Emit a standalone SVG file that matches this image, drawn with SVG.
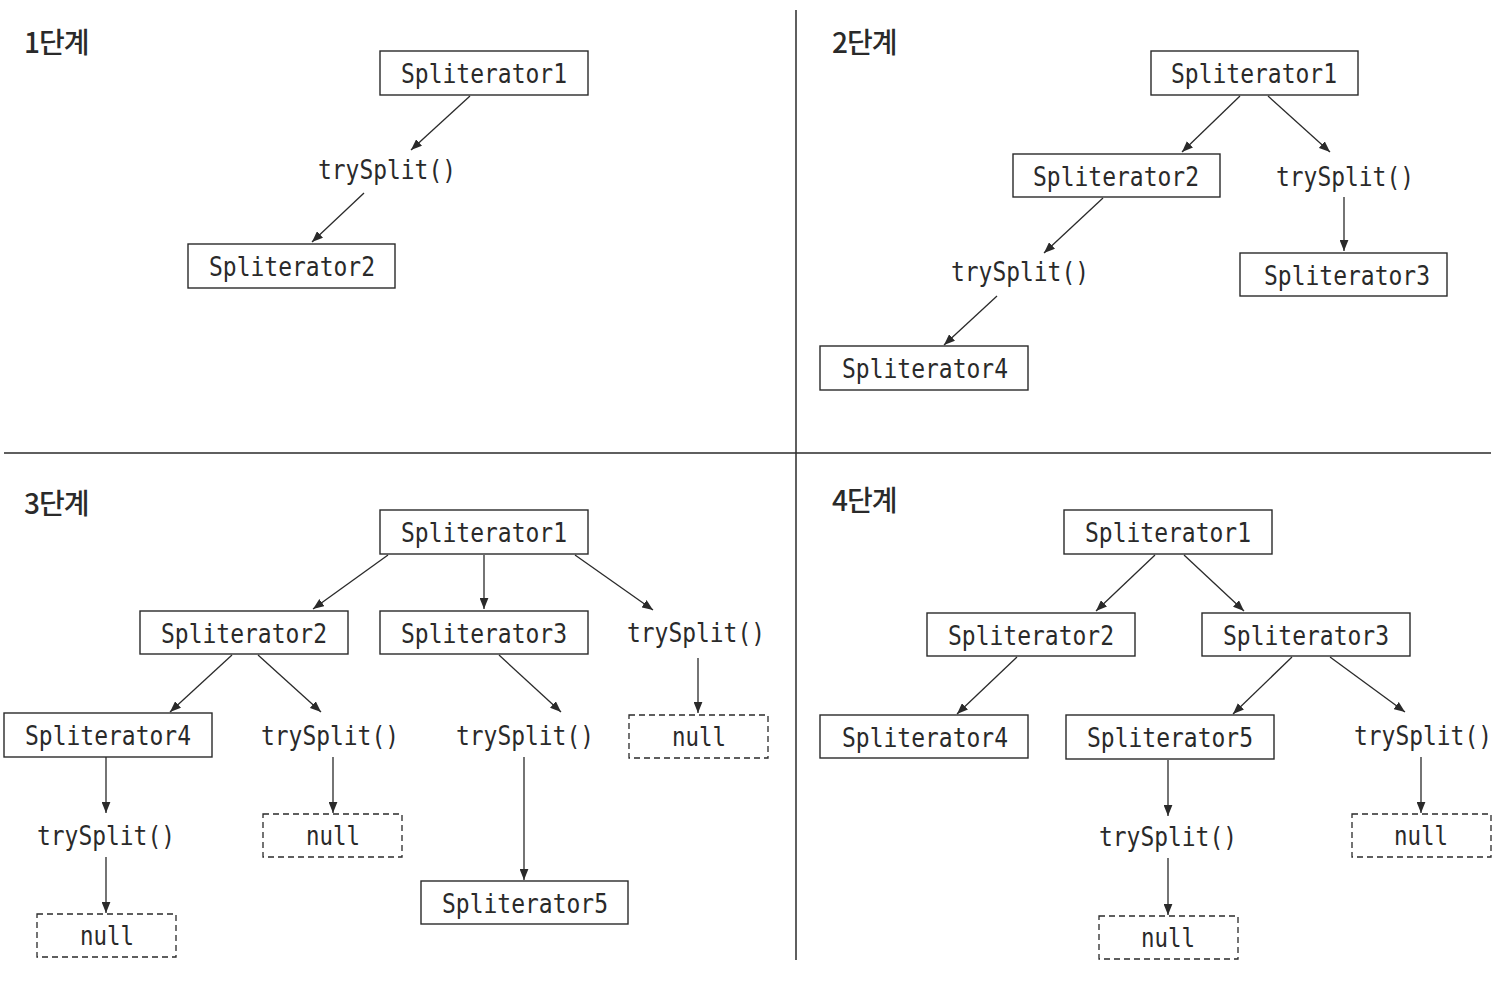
<svg xmlns="http://www.w3.org/2000/svg" width="1509" height="1000" viewBox="0 0 1509 1000">
<style>
.bg{fill:#fff}
.box{fill:#fff;stroke:#2a2a2a;stroke-width:1.4}
.nullbox{fill:#fff;stroke:#2a2a2a;stroke-width:1.3;stroke-dasharray:6 4}
.t{font-family:"DejaVu Sans Mono","Liberation Mono",monospace;font-size:26px;fill:#2a2a2a;text-anchor:middle}
.title{font-family:"Noto Sans CJK KR","Noto Sans",sans-serif;font-size:28px;font-weight:500;fill:#2a2a2a;letter-spacing:-1px}
.div{stroke:#2a2a2a;stroke-width:1.5}
.c{stroke:#2a2a2a;stroke-width:1.3;fill:none;marker-end:url(#ah)}
</style>
<defs>
<marker id="ah" viewBox="0 0 10 8" refX="10" refY="4" markerWidth="11" markerHeight="9" markerUnits="userSpaceOnUse" orient="auto">
<path d="M0,0 L10,4 L0,8 z" fill="#2a2a2a"/>
</marker>
</defs>
<rect class="bg" x="0" y="0" width="1509" height="1000"/>
<g id="dividers">
<line class="div" x1="796" y1="10" x2="796" y2="960"/>
<line class="div" x1="4" y1="453" x2="1491" y2="453"/>
</g>
<g id="titles">
<text class="title" x="24" y="53">1단계</text>
<text class="title" x="832" y="53">2단계</text>
<text class="title" x="24" y="514">3단계</text>
<text class="title" x="832" y="511">4단계</text>
</g>
<g id="connectors">
<line class="c" x1="470" y1="96" x2="411" y2="150"/>
<line class="c" x1="364" y1="193" x2="312" y2="242"/>
<line class="c" x1="1240" y1="96" x2="1182" y2="152"/>
<line class="c" x1="1268" y1="96" x2="1330" y2="152"/>
<line class="c" x1="1344" y1="197" x2="1344" y2="251"/>
<line class="c" x1="1103" y1="198" x2="1044" y2="253"/>
<line class="c" x1="997" y1="296" x2="944" y2="345"/>
<line class="c" x1="388" y1="555" x2="313" y2="609"/>
<line class="c" x1="484" y1="555" x2="484" y2="609"/>
<line class="c" x1="575" y1="555" x2="653" y2="610"/>
<line class="c" x1="232" y1="655" x2="170" y2="712"/>
<line class="c" x1="258" y1="655" x2="321" y2="712"/>
<line class="c" x1="499" y1="655" x2="561" y2="712"/>
<line class="c" x1="698" y1="658" x2="698" y2="713"/>
<line class="c" x1="106" y1="757" x2="106" y2="813"/>
<line class="c" x1="106" y1="857" x2="106" y2="913"/>
<line class="c" x1="333" y1="757" x2="333" y2="813"/>
<line class="c" x1="524" y1="757" x2="524" y2="880"/>
<line class="c" x1="1155" y1="555" x2="1096" y2="611"/>
<line class="c" x1="1184" y1="555" x2="1244" y2="611"/>
<line class="c" x1="1017" y1="657" x2="957" y2="714"/>
<line class="c" x1="1292" y1="657" x2="1233" y2="714"/>
<line class="c" x1="1330" y1="657" x2="1405" y2="712"/>
<line class="c" x1="1168" y1="760" x2="1168" y2="816"/>
<line class="c" x1="1168" y1="858" x2="1168" y2="915"/>
<line class="c" x1="1421" y1="757" x2="1421" y2="813"/>
</g>
<g id="p1-s1"><rect class="box" x="380" y="51" width="208" height="44"/><text class="t" x="484" y="83" textLength="166" lengthAdjust="spacingAndGlyphs">Spliterator1</text></g>
<g id="p1-try"><text class="t" x="387" y="179" textLength="138" lengthAdjust="spacingAndGlyphs">trySplit()</text></g>
<g id="p1-s2"><rect class="box" x="188" y="244" width="207" height="44"/><text class="t" x="292" y="276" textLength="166" lengthAdjust="spacingAndGlyphs">Spliterator2</text></g>
<g id="p2-s1"><rect class="box" x="1151" y="51" width="207" height="44"/><text class="t" x="1254" y="83" textLength="166" lengthAdjust="spacingAndGlyphs">Spliterator1</text></g>
<g id="p2-s2"><rect class="box" x="1013" y="154" width="207" height="43"/><text class="t" x="1116" y="186" textLength="166" lengthAdjust="spacingAndGlyphs">Spliterator2</text></g>
<g id="p2-try1"><text class="t" x="1345" y="186" textLength="138" lengthAdjust="spacingAndGlyphs">trySplit()</text></g>
<g id="p2-s3"><rect class="box" x="1240" y="253" width="207" height="43"/><text class="t" x="1347" y="285" textLength="166" lengthAdjust="spacingAndGlyphs">Spliterator3</text></g>
<g id="p2-try2"><text class="t" x="1020" y="281" textLength="138" lengthAdjust="spacingAndGlyphs">trySplit()</text></g>
<g id="p2-s4"><rect class="box" x="820" y="346" width="208" height="44"/><text class="t" x="925" y="378" textLength="166" lengthAdjust="spacingAndGlyphs">Spliterator4</text></g>
<g id="p3-s1"><rect class="box" x="380" y="510" width="208" height="44"/><text class="t" x="484" y="542" textLength="166" lengthAdjust="spacingAndGlyphs">Spliterator1</text></g>
<g id="p3-s2"><rect class="box" x="140" y="611" width="208" height="43"/><text class="t" x="244" y="643" textLength="166" lengthAdjust="spacingAndGlyphs">Spliterator2</text></g>
<g id="p3-s3"><rect class="box" x="380" y="611" width="208" height="43"/><text class="t" x="484" y="643" textLength="166" lengthAdjust="spacingAndGlyphs">Spliterator3</text></g>
<g id="p3-try1"><text class="t" x="696" y="642" textLength="138" lengthAdjust="spacingAndGlyphs">trySplit()</text></g>
<g id="p3-s4"><rect class="box" x="4" y="713" width="208" height="44"/><text class="t" x="108" y="745" textLength="166" lengthAdjust="spacingAndGlyphs">Spliterator4</text></g>
<g id="p3-try2"><text class="t" x="330" y="745" textLength="138" lengthAdjust="spacingAndGlyphs">trySplit()</text></g>
<g id="p3-try3"><text class="t" x="525" y="745" textLength="138" lengthAdjust="spacingAndGlyphs">trySplit()</text></g>
<g id="p3-null1"><rect class="nullbox" x="629" y="715" width="139" height="43"/><text class="t" x="699" y="746" textLength="54" lengthAdjust="spacingAndGlyphs">null</text></g>
<g id="p3-try4"><text class="t" x="106" y="845" textLength="138" lengthAdjust="spacingAndGlyphs">trySplit()</text></g>
<g id="p3-null2"><rect class="nullbox" x="263" y="814" width="139" height="43"/><text class="t" x="333" y="845" textLength="54" lengthAdjust="spacingAndGlyphs">null</text></g>
<g id="p3-null3"><rect class="nullbox" x="37" y="914" width="139" height="43"/><text class="t" x="107" y="945" textLength="54" lengthAdjust="spacingAndGlyphs">null</text></g>
<g id="p3-s5"><rect class="box" x="421" y="881" width="207" height="43"/><text class="t" x="525" y="913" textLength="166" lengthAdjust="spacingAndGlyphs">Spliterator5</text></g>
<g id="p4-s1"><rect class="box" x="1064" y="510" width="208" height="44"/><text class="t" x="1168" y="542" textLength="166" lengthAdjust="spacingAndGlyphs">Spliterator1</text></g>
<g id="p4-s2"><rect class="box" x="927" y="613" width="208" height="43"/><text class="t" x="1031" y="645" textLength="166" lengthAdjust="spacingAndGlyphs">Spliterator2</text></g>
<g id="p4-s3"><rect class="box" x="1202" y="613" width="208" height="43"/><text class="t" x="1306" y="645" textLength="166" lengthAdjust="spacingAndGlyphs">Spliterator3</text></g>
<g id="p4-s4"><rect class="box" x="820" y="715" width="208" height="43"/><text class="t" x="925" y="747" textLength="166" lengthAdjust="spacingAndGlyphs">Spliterator4</text></g>
<g id="p4-s5"><rect class="box" x="1066" y="715" width="208" height="44"/><text class="t" x="1170" y="747" textLength="166" lengthAdjust="spacingAndGlyphs">Spliterator5</text></g>
<g id="p4-try1"><text class="t" x="1423" y="745" textLength="138" lengthAdjust="spacingAndGlyphs">trySplit()</text></g>
<g id="p4-try2"><text class="t" x="1168" y="846" textLength="138" lengthAdjust="spacingAndGlyphs">trySplit()</text></g>
<g id="p4-null1"><rect class="nullbox" x="1352" y="814" width="139" height="43"/><text class="t" x="1421" y="845" textLength="54" lengthAdjust="spacingAndGlyphs">null</text></g>
<g id="p4-null2"><rect class="nullbox" x="1099" y="916" width="139" height="43"/><text class="t" x="1168" y="947" textLength="54" lengthAdjust="spacingAndGlyphs">null</text></g>
</svg>
